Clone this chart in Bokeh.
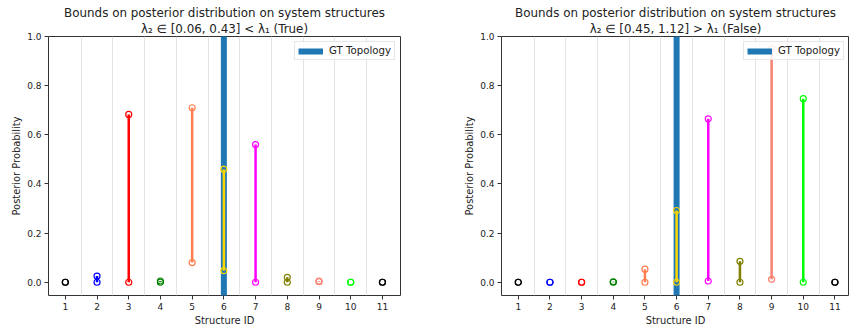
from bokeh.plotting import figure
from bokeh.layouts import row
from bokeh.models import Title, FixedTicker, PrintfTickFormatter, Range1d, ColumnDataSource
from bokeh.embed import file_html
from bokeh.resources import INLINE

structure_ids = [1, 2, 3, 4, 5, 6, 7, 8, 9, 10, 11]
colors = ["black", "blue", "red", "green", "coral", "gold", "magenta", "olive", "salmon", "lime", "black"]

left_lower = [0.0, 0.0, 0.0, 0.0, 0.08, 0.047, 0.0, 0.0, 0.002, 0.0, 0.0]
left_upper = [0.0, 0.025, 0.683, 0.005, 0.71, 0.46, 0.56, 0.02, 0.005, 0.0, 0.0]
right_lower = [0.0, 0.0, 0.0, 0.0, 0.0, 0.0, 0.005, 0.0, 0.012, 0.0, 0.0]
right_upper = [0.0, 0.0, 0.0, 0.002, 0.053, 0.292, 0.665, 0.085, 0.95, 0.747, 0.0]

gt_structure = 6
title_main = "Bounds on posterior distribution on system structures"
left_sub = "\u03bb\u2082 \u2208 [0.06, 0.43] < \u03bb\u2081 (True)"
right_sub = "\u03bb\u2082 \u2208 [0.45, 1.12] > \u03bb\u2081 (False)"
y_ticks = [0.0, 0.2, 0.4, 0.6, 0.8, 1.0]
grid_positions = [1.5, 2.5, 3.5, 4.5, 5.5, 6.5, 7.5, 8.5, 9.5, 10.5]

FONT = "DejaVu Sans"


def make_plot(lower, upper, sub, width, border_left, border_right, x_end):
    p = figure(width=width, height=328, output_backend="svg", toolbar_location=None,
               x_range=Range1d(0.47, x_end), y_range=Range1d(-0.054, 1.0),
               min_border_left=border_left, min_border_right=border_right,
               min_border_top=36, min_border_bottom=0)
    p.add_layout(Title(text=sub, align="center", text_font=FONT, text_font_size="11.9px",
                       text_font_style="normal", text_color="#222222", standoff=1, offset=0), "above")
    p.add_layout(Title(text=title_main, align="center", text_font=FONT, text_font_size="11.9px",
                       text_font_style="normal", text_color="#222222", standoff=0, offset=0), "above")
    p.outline_line_color = "#333333"
    p.outline_line_width = 1
    p.ygrid.visible = False
    p.xgrid.ticker = FixedTicker(ticks=grid_positions)
    p.xgrid.grid_line_color = "#e3e3e3"
    p.xgrid.grid_line_width = 1
    p.xaxis.ticker = FixedTicker(ticks=structure_ids)
    p.yaxis.ticker = FixedTicker(ticks=y_ticks)
    p.yaxis.formatter = PrintfTickFormatter(format="%.1f")
    for ax in (p.xaxis[0], p.yaxis[0]):
        ax.axis_line_color = None
        ax.major_tick_in = 0
        ax.major_tick_out = 4
        ax.minor_tick_line_color = None
        ax.major_tick_line_color = "#333333"
        ax.major_label_text_font = FONT
        ax.major_label_text_font_size = "9px"
        ax.major_label_text_color = "#222222"
        ax.major_label_standoff = 3
        ax.axis_label_text_font = FONT
        ax.axis_label_text_font_size = "9.9px"
        ax.axis_label_text_font_style = "normal"
        ax.axis_label_text_color = "#222222"
        ax.axis_label_standoff = 2
    p.xaxis.axis_label = "Structure ID"
    p.yaxis.axis_label = "Posterior Probability"

    p.segment(x0=[gt_structure], y0=[-0.2], x1=[gt_structure], y1=[1.2],
              line_color="#1f77b4", line_width=6, legend_label="GT Topology")

    src = ColumnDataSource(dict(x=structure_ids, lo=lower, hi=upper, c=colors))
    p.segment(x0="x", y0="lo", x1="x", y1="hi", line_color="c", line_width=2.5, source=src)
    p.scatter(x="x", y="lo", marker="circle", size=6, fill_color=None, line_color="c",
              line_width=1.2, source=src)
    p.scatter(x="x", y="hi", marker="circle", size=6, fill_color=None, line_color="c",
              line_width=1.2, source=src)

    lg = p.legend[0]
    lg.location = "top_right"
    lg.level = "underlay"
    lg.label_text_font = FONT
    lg.label_text_font_size = "10.2px"
    lg.label_text_color = "#222222"
    lg.glyph_width = 25
    lg.glyph_height = 10
    lg.label_height = 10
    lg.padding = 3
    lg.margin = 5
    lg.label_standoff = 6
    lg.border_line_color = "#d0d0d0"
    lg.background_fill_alpha = 0.85
    return p


p1 = make_plot(left_lower, left_upper, left_sub, 461, 48, 61, 11.57)
p2 = make_plot(right_lower, right_upper, right_sub, 388, 40, 0, 11.46)
layout = row(p1, p2)

with open("out.html", "w") as f:
    f.write(file_html(layout, INLINE))
